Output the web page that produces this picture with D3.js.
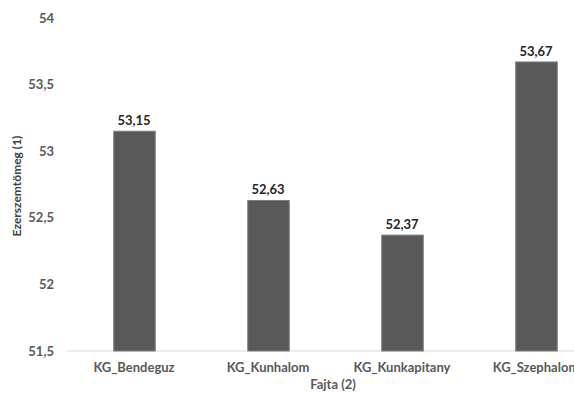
<!DOCTYPE html>
<html>
<head>
<meta charset="utf-8">
<script src="https://cdn.jsdelivr.net/npm/d3@7"></script>
<style>
  body { margin: 0; background: #fff; }
  svg { display: block; font-family: Lato, "Open Sans", sans-serif; font-weight: bold; }
</style>
</head>
<body>
<div id="chart"></div>
<script>
const categories = ['KG_Bendeguz', 'KG_Kunhalom', 'KG_Kunkapitany', 'KG_Szephalom'];
const values = [53.15, 52.63, 52.37, 53.67];
const valueLabels = ['53,15', '52,63', '52,37', '53,67'];
const yTicks = [51.5, 52, 52.5, 53, 53.5, 54];

const width = 574, height = 394;
const svg = d3.select('#chart').append('svg')
  .attr('width', width).attr('height', height);

// x scale runs past the right edge like the original (clipped)
const x = d3.scaleBand().domain(categories).range([67, 603])
  .paddingInner(0.69).paddingOuter(0.345);
const y = d3.scaleLinear().domain([51.5, 54]).range([351, 18]);

const fmt = d => String(d).replace('.', ',');

// y tick labels (no axis line)
const yAxis = svg.append('g')
  .attr('transform', 'translate(60,0)')
  .call(d3.axisLeft(y).tickValues(yTicks).tickSize(0).tickPadding(6).tickFormat(fmt));
yAxis.select('.domain').remove();
yAxis.selectAll('.tick text')
  .attr('fill', '#595959').style('font-size', '13px')
  .style('font-family', 'Lato, sans-serif').style('font-weight', 'bold');

// baseline
svg.append('line')
  .attr('x1', 67).attr('x2', width)
  .attr('y1', y(51.5)).attr('y2', y(51.5))
  .attr('stroke', '#d9d9d9').attr('stroke-width', 1);

// bars
svg.append('g').selectAll('rect')
  .data(values)
  .enter()
  .append('rect')
  .attr('x', (d, i) => x(categories[i]) + 0.5)
  .attr('y', d => y(d))
  .attr('width', x.bandwidth())
  .attr('height', d => y(51.5) - y(d))
  .attr('fill', '#595959')
  .attr('stroke', '#7f7f7f').attr('stroke-width', 1);

// value labels
svg.append('g').selectAll('text')
  .data(values)
  .enter()
  .append('text')
  .attr('x', (d, i) => x(categories[i]) + x.bandwidth() / 2)
  .attr('y', d => y(d) - 6)
  .attr('text-anchor', 'middle')
  .attr('fill', '#262626')
  .style('font-size', '13px')
  .text((d, i) => valueLabels[i]);

// category labels
svg.append('g').selectAll('text')
  .data(categories)
  .enter()
  .append('text')
  .attr('x', d => x(d) + x.bandwidth() / 2)
  .attr('y', 372)
  .attr('text-anchor', 'middle')
  .attr('fill', '#595959')
  .style('font-size', '13px')
  .text(d => d);

// axis titles
svg.append('text')
  .attr('x', 333).attr('y', 389)
  .attr('text-anchor', 'middle')
  .attr('fill', '#595959')
  .style('font-size', '13px')
  .text('Fajta (2)');

svg.append('text')
  .attr('transform', 'translate(21,186) rotate(-90)')
  .attr('text-anchor', 'middle')
  .attr('fill', '#404040')
  .style('font-size', '12px')
  .text('Ezerszemtömeg (1)');
</script>
</body>
</html>
